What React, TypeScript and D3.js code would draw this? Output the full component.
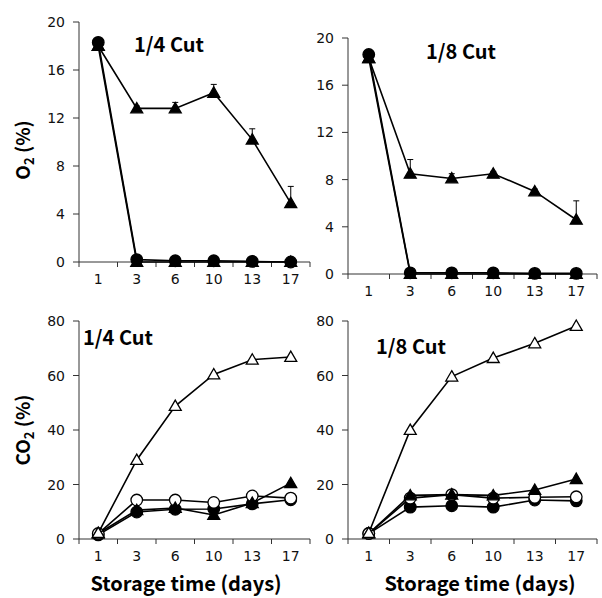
import React, { useEffect, useRef } from 'react';
import * as d3 from 'd3';

// storage days (categorical x axis)
const days = ['1', '3', '6', '10', '13', '17'];

// O2 (%) - 1/4 cut
const o2QuarterTri = [18.0, 12.8, 12.8, 14.1, 10.2, 4.9];
const o2QuarterTriErr = [0.2, 0.2, 0.5, 0.7, 0.9, 1.4];
const o2QuarterTriLow = [18.0, 0.0, 0.0, 0.0, 0.0, 0.0];
const o2QuarterCirc = [18.3, 0.2, 0.1, 0.1, 0.05, 0.0];

// O2 (%) - 1/8 cut
const o2EighthTri = [18.3, 8.5, 8.1, 8.5, 7.0, 4.6];
const o2EighthTriErr = [0.2, 1.2, 0.4, 0.2, 0.2, 1.6];
const o2EighthTriLow = [18.3, 0.0, 0.0, 0.0, 0.0, 0.0];
const o2EighthCirc = [18.6, 0.1, 0.1, 0.1, 0.05, 0.05];

// CO2 (%) - 1/4 cut
const co2QuarterOpenTri = [2.2, 29.0, 48.8, 60.4, 65.8, 66.8];
const co2QuarterFillTri = [2.0, 10.6, 11.4, 8.8, 13.2, 20.5];
const co2QuarterOpenCirc = [2.0, 14.3, 14.3, 13.4, 15.8, 15.0];
const co2QuarterFillCirc = [1.5, 9.9, 10.9, 11.0, 12.9, 14.4];

// CO2 (%) - 1/8 cut
const co2EighthOpenTri = [2.2, 40.0, 59.6, 66.4, 71.8, 78.2];
const co2EighthFillTri = [2.0, 16.0, 16.3, 16.0, 18.0, 22.0];
const co2EighthOpenCirc = [2.0, 15.0, 16.3, 15.0, 15.3, 15.5];
const co2EighthFillCirc = [2.0, 11.7, 12.2, 11.7, 14.3, 14.0];

const o2Ticks = [0, 4, 8, 12, 16, 20];
const co2Ticks = [0, 20, 40, 60, 80];

const tickFont = '"DejaVu Sans", sans-serif';
const boldFont = '"Noto Sans CJK KR", "Noto Sans", sans-serif';

type Series = { values: number[]; shape: 'tri' | 'circ'; filled: boolean; err?: number[] };

const drawPanel = (svg, opts) => {
  const { x0, x1, yTop, yBot, max, ticks, series, title, tx, ty } = opts;
  const g = svg.append('g');

  const xScale = d3.scaleBand().domain(days).range([x0, x1]);
  const yScale = d3.scaleLinear().domain([0, max]).range([yBot, yTop]);

  // y axis
  g.append('line').attr('x1', x0).attr('x2', x0).attr('y1', yTop).attr('y2', yBot)
    .attr('stroke', '#333').attr('stroke-width', 1);
  ticks.forEach((t) => {
    g.append('line').attr('x1', x0 - 6).attr('x2', x0).attr('y1', yScale(t)).attr('y2', yScale(t))
      .attr('stroke', '#333');
    g.append('text').attr('x', x0 - 14).attr('y', yScale(t)).attr('dy', '0.36em')
      .attr('text-anchor', 'end').attr('font-family', tickFont).attr('font-size', 14)
      .attr('fill', '#111').text(t);
  });

  // x axis
  g.append('line').attr('x1', x0).attr('x2', x1).attr('y1', yBot).attr('y2', yBot)
    .attr('stroke', '#333');
  days.forEach((d) => {
    g.append('line').attr('x1', xScale(d)).attr('x2', xScale(d)).attr('y1', yBot).attr('y2', yBot + 5)
      .attr('stroke', '#333');
    g.append('text').attr('x', xScale(d) + xScale.bandwidth() / 2).attr('y', yBot + 17)
      .attr('dy', '0.36em').attr('text-anchor', 'middle').attr('font-family', tickFont)
      .attr('font-size', 14).attr('fill', '#111').text(d);
  });
  g.append('line').attr('x1', x1).attr('x2', x1).attr('y1', yBot).attr('y2', yBot + 5)
    .attr('stroke', '#333');

  const cx = (i) => xScale(days[i]) + xScale.bandwidth() / 2;
  const line = d3.line().x((d, i) => cx(i)).y((d) => yScale(d));

  series.forEach((s: Series) => {
    if (s.err) {
      s.values.forEach((v, i) => {
        const top = yScale(v + s.err[i]);
        g.append('line').attr('x1', cx(i)).attr('x2', cx(i)).attr('y1', yScale(v)).attr('y2', top)
          .attr('stroke', '#000').attr('stroke-width', 1);
        g.append('line').attr('x1', cx(i) - 3).attr('x2', cx(i) + 3).attr('y1', top).attr('y2', top)
          .attr('stroke', '#000').attr('stroke-width', 1);
      });
    }
    g.append('path').datum(s.values).attr('d', line).attr('fill', 'none')
      .attr('stroke', '#000').attr('stroke-width', 1.6);
    const sym = d3.symbol()
      .type(s.shape === 'tri' ? d3.symbolTriangle : d3.symbolCircle)
      .size(s.shape === 'tri' ? 62 : 105);
    g.selectAll(null).data(s.values).enter().append('path')
      .attr('d', sym)
      .attr('transform', (d, i) => `translate(${cx(i)},${yScale(d) + (s.shape === 'tri' ? 1 : 0)})`)
      .attr('fill', s.filled ? '#000' : '#fff')
      .attr('stroke', '#000').attr('stroke-width', 1.3);
  });

  g.append('text').attr('x', tx).attr('y', ty).attr('font-family', boldFont)
    .attr('font-weight', 'bold').attr('font-size', 20).attr('fill', '#000').text(title);

  return g;
};

export default function App() {
  const svgRef = useRef(null);

  useEffect(() => {
    const svg = d3.select(svgRef.current);
    svg.selectAll('*').remove();

    drawPanel(svg, {
      x0: 79, x1: 310, yTop: 22, yBot: 262, max: 20, ticks: o2Ticks,
      title: '1/4 Cut', tx: 134, ty: 52,
      series: [
        { values: o2QuarterTri, shape: 'tri', filled: true, err: o2QuarterTriErr },
        { values: o2QuarterTriLow, shape: 'tri', filled: true },
        { values: o2QuarterCirc, shape: 'circ', filled: true },
      ],
    });
    drawPanel(svg, {
      x0: 348, x1: 597, yTop: 38, yBot: 274, max: 20, ticks: o2Ticks,
      title: '1/8 Cut', tx: 426, ty: 59,
      series: [
        { values: o2EighthTri, shape: 'tri', filled: true, err: o2EighthTriErr },
        { values: o2EighthTriLow, shape: 'tri', filled: true },
        { values: o2EighthCirc, shape: 'circ', filled: true },
      ],
    });
    drawPanel(svg, {
      x0: 79, x1: 310, yTop: 321, yBot: 539, max: 80, ticks: co2Ticks,
      title: '1/4 Cut', tx: 83, ty: 345,
      series: [
        { values: co2QuarterFillCirc, shape: 'circ', filled: true },
        { values: co2QuarterOpenCirc, shape: 'circ', filled: false },
        { values: co2QuarterFillTri, shape: 'tri', filled: true },
        { values: co2QuarterOpenTri, shape: 'tri', filled: false },
      ],
    });
    drawPanel(svg, {
      x0: 348, x1: 597, yTop: 321, yBot: 539, max: 80, ticks: co2Ticks,
      title: '1/8 Cut', tx: 376, ty: 354,
      series: [
        { values: co2EighthFillCirc, shape: 'circ', filled: true },
        { values: co2EighthOpenCirc, shape: 'circ', filled: false },
        { values: co2EighthFillTri, shape: 'tri', filled: true },
        { values: co2EighthOpenTri, shape: 'tri', filled: false },
      ],
    });

    // y axis titles
    const yt1 = svg.append('text').attr('transform', 'translate(30,150) rotate(-90)')
      .attr('text-anchor', 'middle').attr('font-family', boldFont).attr('font-weight', 'bold')
      .attr('font-size', 19);
    yt1.append('tspan').text('O');
    yt1.append('tspan').attr('font-size', 13).attr('dy', 4).text('2');
    yt1.append('tspan').attr('dy', -4).text(' (%)');

    const yt2 = svg.append('text').attr('transform', 'translate(30,430) rotate(-90)')
      .attr('text-anchor', 'middle').attr('font-family', boldFont).attr('font-weight', 'bold')
      .attr('font-size', 19);
    yt2.append('tspan').text('CO');
    yt2.append('tspan').attr('font-size', 13).attr('dy', 4).text('2');
    yt2.append('tspan').attr('dy', -4).text(' (%)');

    // x axis titles
    [186, 480].forEach((x) => {
      svg.append('text').attr('x', x).attr('y', 591).attr('text-anchor', 'middle')
        .attr('font-family', boldFont).attr('font-weight', 'bold').attr('font-size', 20)
        .text('Storage time (days)');
    });
  }, []);

  return (
    <svg ref={svgRef} width={602} height={598}
      style={{ position: 'absolute', left: 0, top: 0, background: '#fff' }} />
  );
}
